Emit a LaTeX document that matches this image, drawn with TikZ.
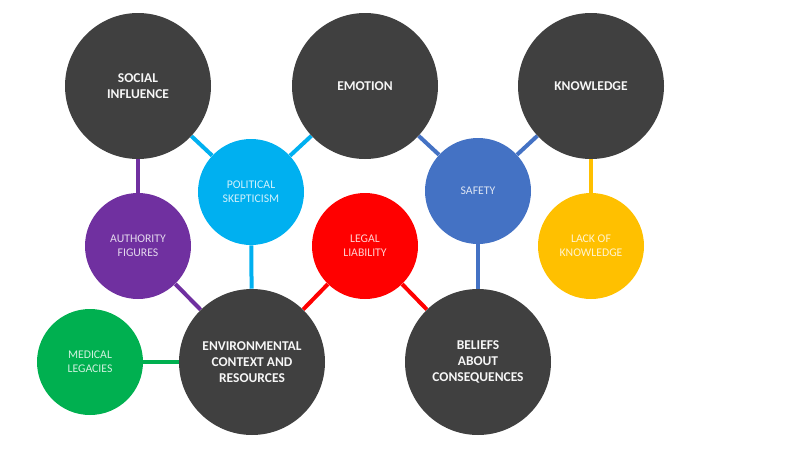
\documentclass[tikz,border=0pt]{standalone}
\usepackage{fontspec}
\setmainfont{Carlito}
\usetikzlibrary{backgrounds}

\definecolor{darkgrey}{HTML}{404040}
\definecolor{skyblue}{HTML}{00B0F0}
\definecolor{midblue}{HTML}{4472C4}
\definecolor{violet}{HTML}{7030A0}
\definecolor{brightred}{HTML}{FF0000}
\definecolor{amber}{HTML}{FFC000}
\definecolor{leafgreen}{HTML}{00B050}

\begin{document}
\begin{tikzpicture}[x=0.75pt,y=-0.75pt,
  bigcircle/.style={circle,fill=darkgrey,minimum size=109.5pt,inner sep=0pt,
    text=white!95!darkgrey,align=center,font=\fontsize{10.1}{12}\selectfont\bfseries},
  smallcircle/.style={circle,fill=#1,minimum size=79.5pt,inner sep=0pt,
    text=white!82!#1,align=center,font=\fontsize{8.8}{10.4}\selectfont},
  link/.style={draw=#1,line width=3pt}]
  \useasboundingbox (0,0) rectangle (800,450);

  % Main factors
  \node[bigcircle] (social) at (138,86) {SOCIAL\\INFLUENCE};
  \node[bigcircle] (emotion) at (365,86) {EMOTION};
  \node[bigcircle] (knowledge) at (591,86) {KNOWLEDGE};
  \node[bigcircle] (environ) at (252,362) {ENVIRONMENTAL\\CONTEXT AND\\RESOURCES};
  \node[bigcircle] (beliefs) at (478,362) {BELIEFS\\ABOUT\\CONSEQUENCES};

  % Sub factors
  \node[smallcircle=skyblue] (political) at (251,192) {POLITICAL\\SKEPTICISM};
  \node[smallcircle=midblue] (safety) at (478,191) {SAFETY};
  \node[smallcircle=violet] (authority) at (138,246) {AUTHORITY\\FIGURES};
  \node[smallcircle=brightred] (legal) at (365,246) {LEGAL\\LIABILITY};
  \node[smallcircle=amber] (lack) at (591,246) {LACK OF\\KNOWLEDGE};
  \node[smallcircle=leafgreen] (medical) at (90,362) {MEDICAL\\LEGACIES};

  % Links
  \begin{scope}[on background layer]
    \draw[link=skyblue] (social) -- (political);
    \draw[link=skyblue] (emotion) -- (political);
    \draw[link=skyblue] (political) -- (environ);
    \draw[link=midblue] (emotion) -- (safety);
    \draw[link=midblue] (knowledge) -- (safety);
    \draw[link=midblue] (safety) -- (beliefs);
    \draw[link=violet] (social) -- (authority);
    \draw[link=violet] (authority) -- (environ);
    \draw[link=brightred] (legal) -- (environ);
    \draw[link=brightred] (legal) -- (beliefs);
    \draw[link=amber] (knowledge) -- (lack);
    \draw[link=leafgreen] (medical) -- (environ);
  \end{scope}
\end{tikzpicture}
\end{document}
